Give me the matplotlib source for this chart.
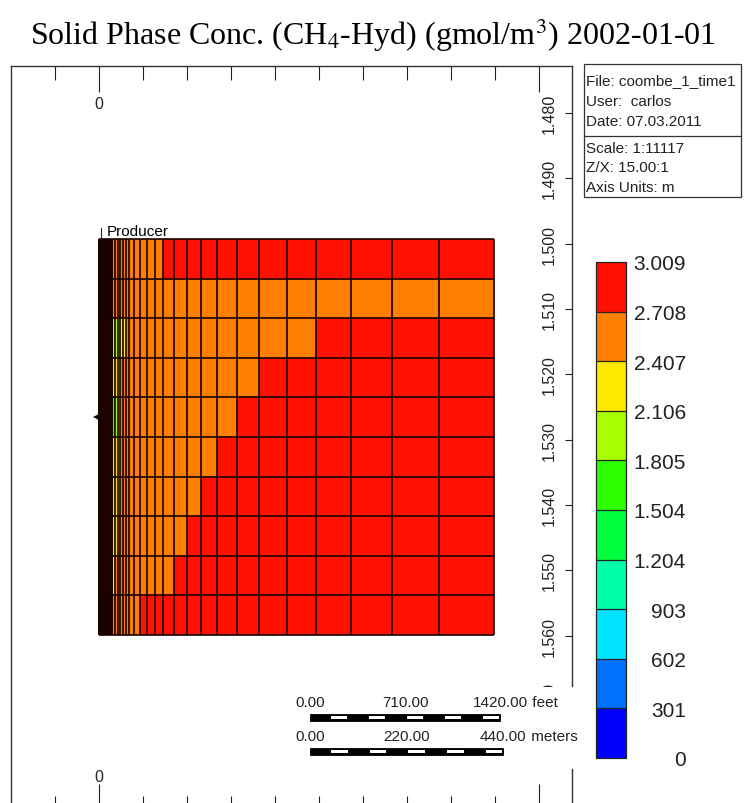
import numpy as np
import matplotlib
matplotlib.use('Agg')
import matplotlib.pyplot as plt
from matplotlib.colors import ListedColormap, BoundaryNorm
from matplotlib.patches import Rectangle

plt.rcParams['font.family'] = 'Liberation Sans'
plt.rcParams['mathtext.fontset'] = 'stix'

W, H = 745, 804   # canvas size in pixels

# legend classes (gmol/m3) and their colours, low to high
levels = [0, 301, 602, 903, 1204, 1504, 1805, 2106, 2407, 2708, 3009]
level_colors = ['#0000ff', '#0070ff', '#00e4ff', '#00ffa8', '#00ff3c',
                '#2bff00', '#a8ff00', '#ffe800', '#ff7f00', '#ff1000']

# column edges (m from the producer): tiny cells at the well, then coarser ones
inner_edges = [0.0, 0.4, 0.8, 1.3, 1.8, 2.4, 3.0, 3.7, 4.4, 5.2, 6.0, 6.9, 7.8,
               8.8, 9.8, 10.9, 12.0, 13.2, 14.4, 15.7, 17.0, 18.4, 19.8, 21.2,
               22.6, 24.0, 25.5, 27.0, 28.6, 30.3]
outer_edges = [36.4, 42.5, 48.5, 55.3, 61.4, 68.9, 80.3, 93.3, 108.5, 126.7,
               146.3, 171.3, 200.9, 231.4, 269.2, 313.3, 364.7, 427.1, 493.7,
               572.7, 667.3, 773.6, 898.8]

# layers (m)
grid_top = 1499.3
layer_thickness = [6.06, 6.06, 6.06, 6.06, 6.06, 6.06, 6.06, 6.06, 6.06, 6.06]

# hydrate concentration of the coarse columns, one row per layer (top down)
conc = np.array([
    [2560, 2570, 2580, 2590, 2600, 2610, 2620, 2630, 2640, 2660, 2680,
     2760, 2800, 2830, 2850, 2870, 2880, 2890, 2900, 2900, 2910, 2910, 2920],
    [2450, 2460, 2470, 2480, 2500, 2510, 2530, 2550, 2570, 2590, 2610,
     2620, 2630, 2640, 2650, 2660, 2670, 2680, 2690, 2690, 2700, 2700, 2700],
    [2050, 2080, 2200, 2300, 2380, 2420, 2450, 2480, 2510, 2540, 2570,
     2590, 2610, 2630, 2650, 2670, 2680, 2690, 2700, 2750, 2800, 2830, 2850],
    [2150, 2200, 2300, 2420, 2450, 2480, 2510, 2540, 2570, 2590, 2610,
     2630, 2650, 2670, 2690, 2700, 2705, 2760, 2800, 2830, 2850, 2870, 2880],
    [1700, 2000, 2250, 2420, 2450, 2480, 2510, 2540, 2570, 2600, 2630,
     2650, 2670, 2690, 2700, 2705, 2750, 2800, 2830, 2850, 2870, 2880, 2890],
    [2200, 2250, 2300, 2420, 2450, 2490, 2520, 2550, 2580, 2610, 2640,
     2660, 2680, 2690, 2700, 2750, 2790, 2820, 2850, 2870, 2880, 2890, 2900],
    [2250, 2300, 2350, 2430, 2460, 2500, 2530, 2560, 2600, 2630, 2660,
     2680, 2690, 2700, 2740, 2780, 2810, 2840, 2860, 2880, 2890, 2900, 2910],
    [2300, 2380, 2420, 2450, 2490, 2520, 2560, 2590, 2620, 2650, 2680,
     2690, 2700, 2750, 2790, 2820, 2850, 2870, 2890, 2900, 2910, 2920, 2920],
    [2350, 2420, 2450, 2490, 2520, 2560, 2590, 2620, 2650, 2680, 2690,
     2700, 2760, 2800, 2830, 2860, 2880, 2890, 2900, 2910, 2920, 2930, 2930],
    [2430, 2460, 2500, 2540, 2580, 2620, 2660, 2690, 2740, 2790, 2820,
     2850, 2870, 2890, 2900, 2910, 2920, 2930, 2940, 2940, 2950, 2950, 2950],
])

well_x = 0.0
perf_depth = 1526.6

depth_ticks = [1480, 1490, 1500, 1510, 1520, 1530, 1540, 1550, 1560, 1570, 1580]
depth_labels = [1480, 1490, 1500, 1510, 1520, 1530, 1540, 1550, 1560, 1570]
x_minor = [-100, 100, 200, 300, 400, 500, 600, 700, 800, 900]
x_major = [0, 1000]

info_lines = ['File: coombe_1_time1', 'User:  carlos', 'Date: 07.03.2011',
              'Scale: 1:11117', 'Z/X: 15.00:1', 'Axis Units: m']

ft_bar = [0.00, 710.00, 1420.00]
m_bar = [0.00, 220.00, 440.00]
FT_TO_M = 0.3048


def px_rect(x0, y0, x1, y1):
    return [x0 / W, 1 - y1 / H, (x1 - x0) / W, (y1 - y0) / H]


def thousands(v):
    return f'{v:,}'.replace(',', '.')


fig = plt.figure(figsize=(W / 100, H / 100), dpi=100)
fig.patch.set_facecolor('white')

# main section view: x in metres, depth in metres (Z/X = 15)
AX_L, AX_T, AX_R, AX_B = 10.7, 67, 572, 811
ax = fig.add_axes(px_rect(AX_L, AX_T, AX_R, AX_B), zorder=1)
ax.set_xlim(-201, 1076)
ax.set_ylim(1586.7, 1472.8)

cmap = ListedColormap(level_colors)
norm = BoundaryNorm(levels, cmap.N)

x_edges = np.concatenate([inner_edges, outer_edges])
y_edges = grid_top + np.concatenate([[0], np.cumsum(layer_thickness)])
n_inner = len(inner_edges) - 1
conc_full = np.hstack([np.repeat(conc[:, :1], n_inner, axis=1), conc])

mesh = ax.pcolormesh(x_edges, y_edges, conc_full, cmap=cmap, norm=norm,
                     edgecolors='none', antialiased=False)
# cell outlines, each grid line drawn once
line_col = '#1a0200'
ax.vlines(x_edges, y_edges[0], y_edges[-1], colors=line_col, lw=1.2)
ax.hlines(y_edges, x_edges[0], x_edges[-1], colors=line_col, lw=1.2)

# producer
ax.plot(well_x - 7, perf_depth, marker='<', ms=4.5, color='black', mew=0)
ax.plot([well_x + 3.9, well_x + 3.9], [grid_top - 1.75, grid_top],
        color='#222222', lw=0.8)
ax.annotate('Producer', xy=(well_x, grid_top), xytext=(5.5, 5.5),
            textcoords='offset points', fontsize=11, va='center')

# frame and ticks
for sp in ax.spines.values():
    sp.set_color('#333333')
    sp.set_linewidth(1.0)
ax.set_xticks(x_major)
ax.set_xticks(x_minor, minor=True)
ax.tick_params(axis='x', which='both', direction='in', top=True, bottom=True,
               labeltop=False, labelbottom=False, width=0.8, color='#222222')
ax.tick_params(axis='x', which='major', length=18.7)
ax.tick_params(axis='x', which='minor', length=10)
ax.set_yticks(depth_ticks)
ax.tick_params(axis='y', which='both', direction='in', left=False, right=True,
               labelleft=False, labelright=False, length=5, width=0.8,
               color='#222222')

lbl_kw = dict(fontsize=11.5, color='#222222', ha='center', va='center')
ax.annotate('0', xy=(0, 1), xycoords=('data', 'axes fraction'),
            xytext=(0, -38 * 0.72), textcoords='offset points', **lbl_kw)
ax.annotate('0', xy=(0, 0), xycoords=('data', 'axes fraction'),
            xytext=(0, 33 * 0.72), textcoords='offset points', **lbl_kw)
label_x = (549 - AX_L) / (AX_R - AX_L)
for d in depth_labels:
    ax.text(label_x, d, f'{d / 1000:.3f}', transform=ax.get_yaxis_transform(),
            rotation=90, **lbl_kw)

# overlay in pixel coordinates for the scale bars and the info box
ov = fig.add_axes([0, 0, 1, 1], zorder=3)
ov.set_xlim(0, W)
ov.set_ylim(H, 0)
ov.axis('off')
ov.patch.set_alpha(0)

px_per_m = (AX_R - AX_L) / (ax.get_xlim()[1] - ax.get_xlim()[0])
ov.add_patch(Rectangle((290, 688), 296, 82, fc='white', ec='none'))


def scale_bar(x0, y_text, y_bar, values, unit, to_m):
    length = values[-1] * to_m * px_per_m
    seg = length / 10
    ov.add_patch(Rectangle((x0, y_bar), length, 7, fc='black', ec='black', lw=0.6))
    for i in range(1, 10, 2):
        ov.add_patch(Rectangle((x0 + i * seg + 1.5, y_bar + 1.6), seg - 2.5, 3.8,
                               fc='white', ec='none'))
    kw = dict(fontsize=11, color='#222222', va='center', ha='center')
    ov.text(x0, y_text, f'{values[0]:.2f}', **kw)
    ov.text(x0 + length / 2, y_text, f'{values[1]:.2f}', **kw)
    last = ov.text(x0 + length, y_text, f'{values[2]:.2f}', **kw)
    ov.annotate(' ' + unit, xy=(1, 0.5), xycoords=last, va='center', ha='left',
                fontsize=11, color='#222222')


scale_bar(310, 703, 715, ft_bar, 'feet', FT_TO_M)
scale_bar(310, 737, 749, m_bar, 'meters', 1.0)

# info box
ov.add_patch(Rectangle((584, 65), 157, 133, fill=False, ec='#333333', lw=0.9))
ov.plot([584, 741], [137, 137], color='#333333', lw=0.9)
for txt, y in zip(info_lines, [81, 102, 122, 149, 168, 188]):
    ov.text(586.5, y, txt, fontsize=11, va='center', ha='left', color='#222222')

# colour legend
cax = fig.add_axes(px_rect(596, 263, 626, 759))
cb = fig.colorbar(mesh, cax=cax, ticks=levels, drawedges=True)
cb.outline.set_linewidth(0.9)
cb.outline.set_edgecolor('#222222')
cb.dividers.set_color('#222222')
cb.dividers.set_linewidth(0.9)
cax.set_yticklabels([thousands(v) for v in levels])
cax.tick_params(length=0, pad=60 * 0.72, labelsize=15, labelcolor='#222222')
for t in cax.get_yticklabels():
    t.set_ha('right')

fig.text(372.5 / W, 1 - 35 / H,
         'Solid Phase Conc. (CH$_4$-Hyd) (gmol/m$^3$) 2002-01-01',
         family='Liberation Serif', fontsize=23, ha='center', va='center')

fig.savefig('out.png', dpi=100)
